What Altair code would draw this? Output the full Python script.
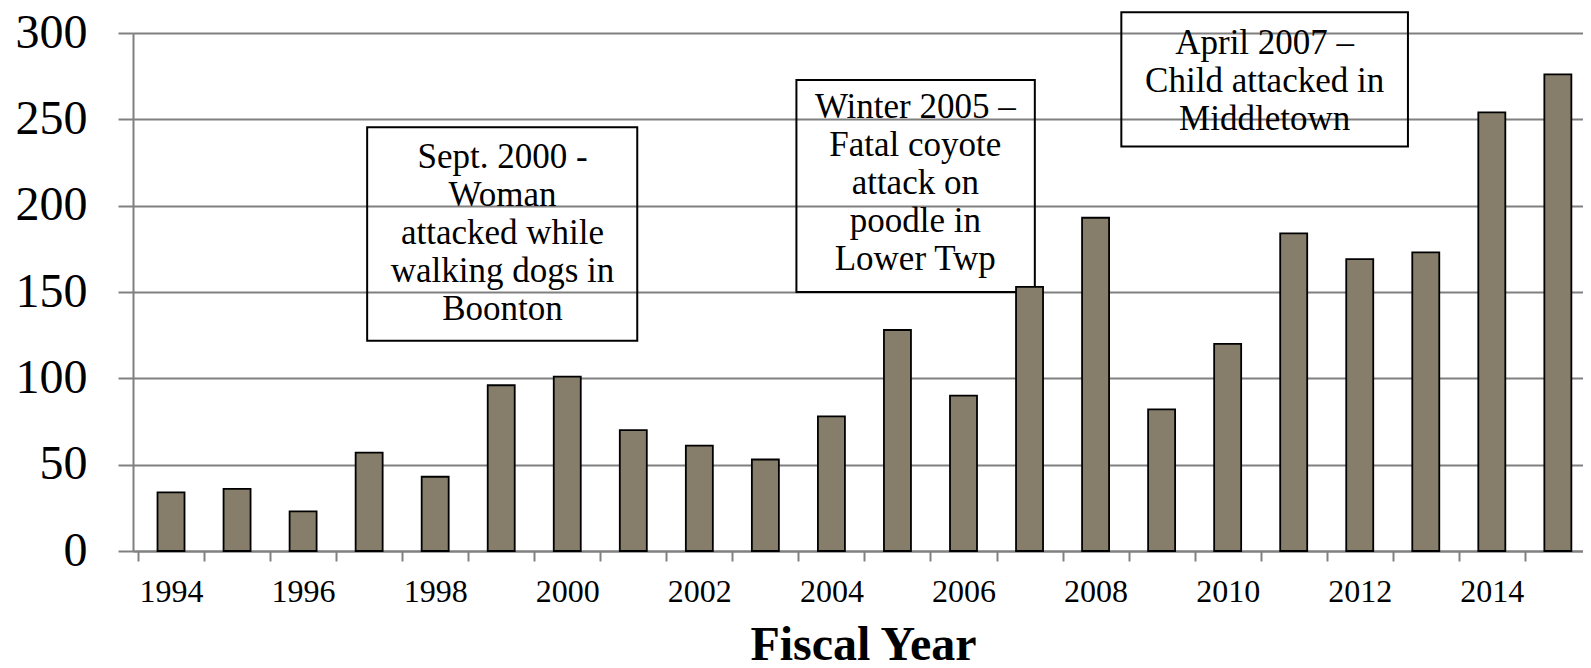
import altair as alt
import pandas as pd

years = list(range(1994, 2016))
counts = [34, 36, 23, 57, 43, 96, 101, 70, 61, 53, 78, 128, 90, 153, 193, 82, 120, 184, 169, 173, 254, 276]

# annotation boxes (data units)
box_x0 = [1996.97, 2003.47, 2008.39]
box_x1 = [2001.06, 2007.08, 2012.73]
box_y0 = [121.8, 150.0, 234.2]
box_y1 = [245.4, 272.8, 312.0]
# position of the first line of each note
note_x = [1999.02, 2005.27, 2010.56]
note_y = [228.4, 257.1, 294.2]
note_text = [
    "Sept. 2000 -\nWoman\nattacked while\nwalking dogs in\nBoonton",
    "Winter 2005 \u2013\nFatal coyote\nattack on\npoodle in\nLower Twp",
    "April 2007 \u2013\nChild attacked in\nMiddletown",
]

FONT = "Liberation Serif"
GRAY = "#808080"

bars_df = pd.DataFrame({"year": years, "count": counts})
boxes_df = pd.DataFrame({"x0": box_x0, "x1": box_x1, "y0": box_y0, "y1": box_y1})
notes_df = pd.DataFrame({"x": note_x, "y": note_y, "t": note_text})

tick_vals = [1993.5 + i for i in range(22)]

xscale = alt.Scale(domain=[1993.5, 2015.305], nice=False, zero=False)
yscale = alt.Scale(domain=[0, 300], nice=False)

xaxis = alt.Axis(
    values=tick_vals,
    labelExpr="(datum.value + 0.5) % 2 == 0 ? format(datum.value + 0.5, 'd') : ''",
    labelOffset=33,
    grid=False,
    domainColor=GRAY, domainWidth=2,
    tickColor=GRAY, tickWidth=2, tickSize=10,
    labelFont=FONT, labelFontSize=32, labelColor="black", labelPadding=15,
    labelOverlap=False, labelFlush=False,
    title="Fiscal Year", titleFont=FONT, titleFontSize=48, titleFontWeight="bold",
    titleColor="black", titleBaseline="alphabetic", titleY=108, titleX=730,
)
yaxis = alt.Axis(
    values=[0, 50, 100, 150, 200, 250, 300],
    grid=True, gridColor=GRAY, gridWidth=2,
    domainColor=GRAY, domainWidth=2,
    tickColor=GRAY, tickWidth=2, tickSize=15,
    labelFont=FONT, labelFontSize=48, labelColor="black", labelPadding=31,
    title=None,
)

bars = alt.Chart(bars_df).mark_bar(
    size=27, color="#867E6A", stroke="black", strokeWidth=1.8
).encode(
    x=alt.X("year:Q", scale=xscale, axis=xaxis),
    y=alt.Y("count:Q", scale=yscale, axis=yaxis),
)

boxes = alt.Chart(boxes_df).mark_rect(
    fill="transparent", stroke="black", strokeWidth=2
).encode(
    x=alt.X("x0:Q", scale=xscale), x2="x1:Q",
    y=alt.Y("y0:Q", scale=yscale), y2="y1:Q",
)

notes = alt.Chart(notes_df).mark_text(
    font=FONT, fontSize=35, color="black", lineBreak="\n", lineHeight=38,
    align="center", baseline="middle"
).encode(
    x=alt.X("x:Q", scale=xscale),
    y=alt.Y("y:Q", scale=yscale),
    text="t:N",
)

chart = alt.layer(boxes, bars, notes).properties(
    width=1450, height=518,
    autosize=alt.AutoSizeParams(type="none"),
    padding={"left": 125, "top": 25, "right": 0, "bottom": 109},
    background="white",
).configure_view(strokeWidth=0)

chart.save("out.html", embed_options={"renderer": "svg", "actions": False})
